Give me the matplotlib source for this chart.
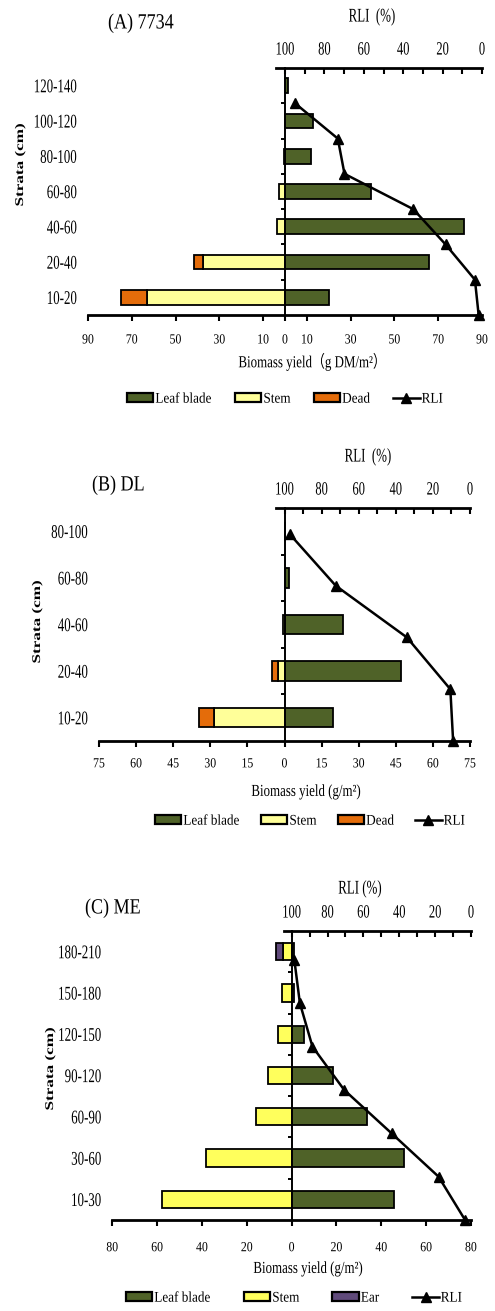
import matplotlib
matplotlib.use("Agg")
import matplotlib.pyplot as plt
from matplotlib.patches import Patch
from matplotlib.lines import Line2D
from matplotlib.patheffects import AbstractPathEffect
from matplotlib.transforms import Affine2D
import numpy as np

plt.rcParams['font.family'] = ['Liberation Serif', 'Noto Sans CJK SC', 'DejaVu Sans']

W, H = 495, 1311
fig = plt.figure(figsize=(W / 100, H / 100), dpi=100)

# ---------------- data ----------------
# (A) 7734
a_strata = ["10-20", "20-40", "40-60", "60-80", "80-100", "100-120", "120-140"]
a_leaf = [20.2, 66.0, 82.0, 39.5, 12.0, 13.0, 1.5]
a_stem = [63.2, 37.3, 3.8, 2.9, 0.6, 0.0, 0.0]
a_dead = [11.7, 4.3, 0.0, 0.0, 0.0, 0.0, 0.0]
a_rli_height = [0, 20, 40, 60, 80, 100, 120]
a_rli = [1.7, 3.6, 18.5, 34.9, 69.8, 73.2, 94.9]

# (B) DL
b_strata = ["10-20", "20-40", "40-60", "60-80", "80-100"]
b_leaf = [19.7, 47.2, 23.6, 1.8, 0.0]
b_stem = [28.7, 2.5, 0.8, 0.0, 0.0]
b_dead = [5.8, 2.5, 0.0, 0.0, 0.0]
b_rli_height = [0, 20, 40, 60, 80]
b_rli = [9.1, 10.6, 34.0, 72.4, 97.3]

# (C) ME
c_strata = ["10-30", "30-60", "60-90", "90-120", "120-150", "150-180", "180-210"]
c_leaf = [45.8, 50.1, 33.6, 18.5, 5.7, 1.0, 1.0]
c_stem = [57.8, 38.1, 16.1, 10.5, 6.2, 4.2, 3.7]
c_ear = [0.0, 0.0, 0.0, 0.0, 0.0, 0.0, 3.4]
c_rli_height = [0, 30, 60, 90, 120, 150, 180]
c_rli = [3.3, 18.1, 44.3, 70.7, 88.4, 95.4, 98.5]

a_xticks = [-90, -70, -50, -30, -10, 0, 10, 30, 50, 70, 90]
b_xticks = list(range(-75, 76, 15))
c_xticks = list(range(-80, 81, 20))
rli_ticks = [0, 20, 40, 60, 80, 100]
rli_minor = [10, 30, 50, 70, 90]

LEAF = '#4F6228'
STEM_PALE = '#FFFF99'
STEM_BRIGHT = '#FFFF5C'
DEAD = '#E46C0A'
EAR = '#604A7B'

SERIF = ['Liberation Serif', 'Noto Sans CJK SC']


class Stretch(AbstractPathEffect):
    """Scale glyph outlines about their own centre (tall, narrow lettering)."""

    def __init__(self, sx=1.0, sy=1.0):
        super().__init__()
        self.sx, self.sy = sx, sy

    def draw_path(self, renderer, gc, tpath, affine, rgbFace=None):
        ext = tpath.get_extents()
        cx = (ext.x0 + ext.x1) / 2
        cy = (ext.y0 + ext.y1) / 2
        t = (Affine2D().translate(-cx, -cy).scale(self.sx, self.sy)
             .translate(cx, cy))
        renderer.draw_path(gc, tpath, t + affine, rgbFace)


def fx(px):
    return px / W


def fy(py):
    return 1 - py / H


panels = []


def panel(box, strata, leaf, stem, extra, extra_color, stem_color, xmax, xticks,
          rli_h, rli, rli_top, bottom_pad):
    left, top, right, bottom = box
    rect = [fx(left), fy(bottom), (right - left) / W, (bottom - top) / H]
    ax = fig.add_axes(rect)
    y = np.arange(len(strata))
    bh = 0.42
    kw = dict(height=bh, edgecolor='black', linewidth=1.3, zorder=3)
    ax.barh(y, leaf, color=LEAF, **kw)
    ax.barh(y, -np.asarray(stem), color=stem_color, **kw)
    nz = np.asarray(extra) > 0
    ax.barh(y[nz], -np.asarray(extra)[nz], left=-np.asarray(stem)[nz],
            color=extra_color, **kw)

    ax.set_xlim(-xmax, xmax)
    ax.set_ylim(-0.5, len(strata) - 0.5)
    ax.patch.set_visible(False)
    for s in ('top', 'right'):
        ax.spines[s].set_visible(False)
    ax.spines['bottom'].set_linewidth(2.0)
    ax.spines['left'].set_position(('data', 0))
    ax.spines['left'].set_linewidth(1.4)
    ax.spines['left'].set_zorder(4)

    ax.set_xticks(xticks, labels=[f"{abs(v)}" for v in xticks])
    ax.tick_params(axis='x', direction='out', length=4, width=1.5,
                   labelsize=8.5, pad=bottom_pad)
    ax.set_yticks(y[:-1] + 0.5, labels=[])
    ax.tick_params(axis='y', direction='out', length=3, width=1.4)

    cat = ax.secondary_yaxis('left')
    cat.set_yticks(y, labels=strata)
    cat.tick_params(length=0, pad=8, labelsize=9.3)
    cat.spines['left'].set_visible(False)

    # RLI profile on its own scales
    ar = fig.add_axes(rect)
    ar.patch.set_visible(False)
    ar.set_xlim(200, 0)
    ar.set_ylim(0, rli_top)
    for s in ('left', 'right', 'bottom'):
        ar.spines[s].set_visible(False)
    ar.spines['top'].set_linewidth(2.0)
    ar.spines['top'].set_bounds(104.5, 0)
    ar.xaxis.tick_top()
    ar.set_xticks(rli_ticks, labels=[str(v) for v in rli_ticks])
    ar.set_xticks(rli_minor, minor=True)
    ar.tick_params(axis='x', which='both', direction='in', length=4, width=1.5,
                   labelsize=9, pad=9)
    ar.set_yticks([])
    ar.plot(rli, rli_h, color='black', linewidth=1.8, marker='^',
            markersize=7, clip_on=False, zorder=5)
    panels.append((ax, cat, ar))


panel((88, 68, 482, 315), a_strata, a_leaf, a_stem, a_dead, DEAD, STEM_PALE,
      90, a_xticks, a_rli_height, a_rli, 140, 9.5)
panel((99, 508, 470, 741), b_strata, b_leaf, b_stem, b_dead, DEAD, STEM_PALE,
      75, b_xticks, b_rli_height, b_rli, 90, 8)
panel((112.3, 931, 471, 1220), c_strata, c_leaf, c_stem, c_ear, EAR, STEM_BRIGHT,
      80, c_xticks, c_rli_height, c_rli, 200, 11.5)

texts = []
# titles
for x, yc, s in ((108, 23, "(A) 7734"), (92, 485, "(B) DL"), (85, 908, "(C) ME")):
    t = fig.text(fx(x), fy(yc), s, fontsize=13, ha='left', va='center')
    t.set_path_effects([Stretch(sy=1.2)])

# RLI axis titles
for x, yc, s in ((372, 17, "RLI  (%)"), (368, 457, "RLI  (%)"), (360, 889, "RLI (%)")):
    t = fig.text(fx(x), fy(yc), s, fontsize=9.3, ha='center', va='center')
    t.set_path_effects([Stretch(sy=1.5)])

# biomass axis titles
for x, yc, s in ((312, 362, "Biomass yield（g DM/m²）"),
                 (306, 792, "Biomass yield (g/m²)"),
                 (308, 1269, "Biomass yield (g/m²)")):
    t = fig.text(fx(x), fy(yc), s, fontsize=9.3, ha='center', va='center',
                 family=SERIF)
    t.set_path_effects([Stretch(sy=1.3)])

# strata axis titles
for x, yc in ((20, 165), (37, 622), (50, 1069)):
    t = fig.text(fx(x), fy(yc), "Strata (cm)", fontsize=8.5, rotation=90,
                 ha='center', va='center', weight='bold')
    t.set_path_effects([Stretch(sx=1.45)])


def legend(entries, cx, cy, colspace):
    handles = []
    labels = []
    for name, col in entries:
        if col is None:
            handles.append(Line2D([], [], color='black', linewidth=1.8,
                                  marker='^', markersize=7))
        else:
            handles.append(Patch(facecolor=col, edgecolor='black', linewidth=1.6))
        labels.append(name)
    leg = fig.legend(handles, labels, loc='center', bbox_to_anchor=(fx(cx), fy(cy)),
                     ncol=len(entries), frameon=False, fontsize=9.5,
                     handlelength=2.0, handleheight=0.7, handletextpad=0.15,
                     columnspacing=colspace, borderpad=0, borderaxespad=0)
    for t in leg.get_texts():
        t.set_path_effects([Stretch(sy=1.12)])


legend([("Leaf blade", LEAF), ("Stem", STEM_PALE), ("Dead", DEAD), ("RLI", None)],
       285, 399, 1.75)
legend([("Leaf blade", LEAF), ("Stem", STEM_PALE), ("Dead", DEAD), ("RLI", None)],
       310, 821, 1.6)
legend([("Leaf blade", LEAF), ("Stem", STEM_BRIGHT), ("Ear", EAR), ("RLI", None)],
       294, 1298, 2.5)

# tall lettering for tick labels
fig.canvas.draw()
for ax, cat, ar in panels:
    for t in ax.get_xticklabels():
        t.set_path_effects([Stretch(sy=1.18)])
    for t in cat.get_yticklabels():
        t.set_path_effects([Stretch(sy=1.5)])
    for t in ar.get_xticklabels():
        t.set_path_effects([Stretch(sy=1.5)])

fig.savefig("out.png", dpi=100)
